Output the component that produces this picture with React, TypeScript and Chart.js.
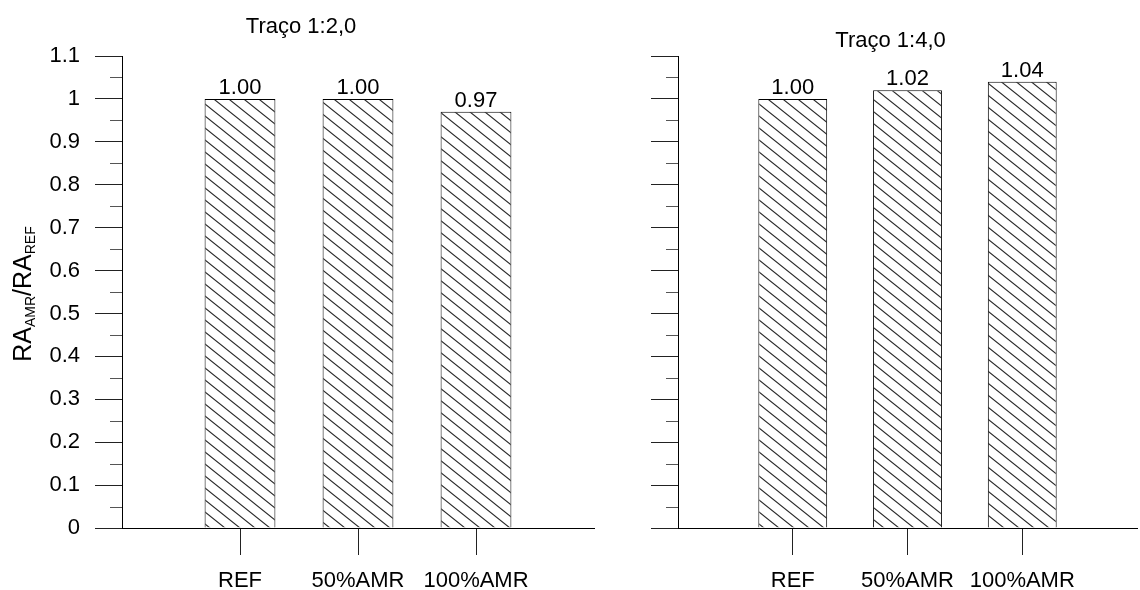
import React, { useEffect, useRef } from "react";
import { Chart, registerables } from "chart.js";

Chart.register(...registerables);

// ---- data ----
const categories = ["", "REF", "50%AMR", "100%AMR", ""];
const leftValues = [null, 1.0, 1.0, 0.97, null];
const rightValues = [null, 1.0, 1.02, 1.04, null];
const leftTitle = "Traço 1:2,0";
const rightTitle = "Traço 1:4,0";
const yMin = 0;
const yMax = 1.1;
const yStep = 0.1;
const yTitleParts: [string, boolean][] = [
  ["RA", false],
  ["AMR", true],
  ["/RA", false],
  ["REF", true],
];

const FAMILY = "'Liberation Sans', Arial, Helvetica, sans-serif";
const FONT_SIZE = 22;

function makeHatch(): CanvasPattern | string {
  const c = document.createElement("canvas");
  const w = 15;
  const h = 12;
  c.width = w;
  c.height = h;
  const g = c.getContext("2d");
  if (!g) return "#fff";
  g.fillStyle = "#fff";
  g.fillRect(0, 0, w, h);
  g.strokeStyle = "#2a2a2a";
  g.lineWidth = 1.1;
  g.beginPath();
  for (const k of [-1, 0, 1]) {
    g.moveTo(-1, k * h - h / w);
    g.lineTo(w + 1, k * h + h + h / w);
  }
  g.stroke();
  const p = g.createPattern(c, "repeat");
  return p || "#fff";
}

const valueLabelPlugin = {
  id: "valueLabels",
  afterDatasetsDraw(chart: any) {
    const ctx = chart.ctx;
    const meta = chart.getDatasetMeta(0);
    const data = chart.data.datasets[0].data;
    ctx.save();
    ctx.font = `${FONT_SIZE}px ${FAMILY}`;
    ctx.fillStyle = "#000";
    ctx.textAlign = "center";
    ctx.textBaseline = "alphabetic";
    meta.data.forEach((el: any, i: number) => {
      const v = data[i];
      if (v === null || v === undefined) return;
      ctx.fillText(Number(v).toFixed(2), el.x, el.y - 5);
    });
    ctx.restore();
  },
};

const minorTickPlugin = {
  id: "minorTicks",
  afterDraw(chart: any) {
    const ctx = chart.ctx;
    const s = chart.scales.y;
    const left = chart.chartArea.left;
    ctx.save();
    ctx.strokeStyle = "#555";
    ctx.lineWidth = 1;
    ctx.beginPath();
    for (let i = 0; i < Math.round((yMax - yMin) / yStep); i++) {
      const v = yMin + (i + 0.5) * yStep;
      const y = Math.round(s.getPixelForValue(v)) + 0.5;
      ctx.moveTo(left - 12, y);
      ctx.lineTo(left, y);
    }
    ctx.stroke();
    ctx.restore();
  },
};

const yTitlePlugin = {
  id: "yTitle",
  afterDraw(chart: any) {
    const ctx = chart.ctx;
    const ca = chart.chartArea;
    const mainFont = `25px ${FAMILY}`;
    const subFont = `14px ${FAMILY}`;
    ctx.save();
    let total = 0;
    const widths = yTitleParts.map(([t, sub]) => {
      ctx.font = sub ? subFont : mainFont;
      const w = ctx.measureText(t).width;
      total += w;
      return w;
    });
    ctx.translate(31, (ca.top + ca.bottom) / 2 + 2);
    ctx.rotate(-Math.PI / 2);
    ctx.fillStyle = "#000";
    ctx.textBaseline = "alphabetic";
    ctx.textAlign = "left";
    let x = -total / 2;
    yTitleParts.forEach(([t, sub], i) => {
      ctx.font = sub ? subFont : mainFont;
      ctx.fillText(t, x, sub ? 4 : 0);
      x += widths[i];
    });
    ctx.restore();
  },
};

function buildConfig(
  values: (number | null)[],
  title: string,
  opts: {
    padLeft: number;
    padRight: number;
    yWidth: number;
    showYLabels: boolean;
    titleTop: number;
    titleBottom: number;
    withYTitle: boolean;
  }
): any {
  const font = { family: FAMILY, size: FONT_SIZE, weight: "normal" as const };
  const plugins: any[] = [valueLabelPlugin, minorTickPlugin];
  if (opts.withYTitle) plugins.push(yTitlePlugin);
  return {
    type: "bar",
    data: {
      labels: categories,
      datasets: [
        {
          data: values,
          backgroundColor: makeHatch(),
          borderColor: "#000",
          borderWidth: 1,
          categoryPercentage: 1,
          barPercentage: 0.6,
        },
      ],
    },
    plugins,
    options: {
      animation: false,
      responsive: false,
      devicePixelRatio: 1,
      layout: { padding: { left: opts.padLeft, right: opts.padRight, top: 0, bottom: 0 } },
      plugins: {
        legend: { display: false },
        tooltip: { enabled: false },
        title: {
          display: true,
          text: title,
          color: "#000",
          font,
          padding: { top: opts.titleTop, bottom: opts.titleBottom },
        },
      },
      scales: {
        x: {
          type: "category",
          offset: false,
          grid: {
            display: true,
            offset: false,
            drawOnChartArea: false,
            drawTicks: true,
            tickLength: 27,
            color: (c: any) =>
              c.index === 0 || c.index === categories.length - 1 ? "rgba(0,0,0,0)" : "#222",
          },
          border: { display: true, color: "#000", width: 1 },
          ticks: {
            color: "#000",
            font,
            padding: 13,
            maxRotation: 0,
            minRotation: 0,
            autoSkip: false,
          },
          afterFit: (s: any) => {
            s.height = 62;
          },
        },
        y: {
          min: yMin,
          max: yMax,
          grid: {
            display: true,
            drawOnChartArea: false,
            drawTicks: true,
            tickLength: 27,
            color: "#222",
          },
          border: { display: true, color: "#000", width: 1 },
          ticks: {
            display: opts.showYLabels,
            stepSize: yStep,
            color: "#000",
            font,
            padding: 15,
            callback: (v: any) => String(parseFloat(Number(v).toFixed(2))),
          },
          afterFit: (s: any) => {
            s.width = opts.yWidth;
          },
        },
      },
    },
  };
}

export default function App() {
  const leftRef = useRef<HTMLCanvasElement>(null);
  const rightRef = useRef<HTMLCanvasElement>(null);

  useEffect(() => {
    const charts: Chart[] = [];
    if (leftRef.current) {
      charts.push(
        new Chart(
          leftRef.current,
          buildConfig(leftValues, leftTitle, {
            padLeft: 8,
            padRight: 13,
            yWidth: 114,
            showYLabels: true,
            titleTop: 14,
            titleBottom: 15.6,
            withYTitle: true,
          })
        )
      );
    }
    if (rightRef.current) {
      charts.push(
        new Chart(
          rightRef.current,
          buildConfig(rightValues, rightTitle, {
            padLeft: 0,
            padRight: 13,
            yWidth: 34,
            showYLabels: false,
            titleTop: 28,
            titleBottom: 1.6,
            withYTitle: false,
          })
        )
      );
    }
    return () => charts.forEach((c) => c.destroy());
  }, []);

  return (
    <div
      style={{
        position: "fixed",
        left: 0,
        top: 0,
        width: 1140,
        height: 590,
        background: "#fff",
        overflow: "hidden",
      }}
    >
      <canvas
        ref={leftRef}
        width={607}
        height={590}
        style={{ position: "absolute", left: 0, top: 0, width: 607, height: 590 }}
      />
      <canvas
        ref={rightRef}
        width={506}
        height={590}
        style={{ position: "absolute", left: 644, top: 0, width: 506, height: 590 }}
      />
    </div>
  );
}
